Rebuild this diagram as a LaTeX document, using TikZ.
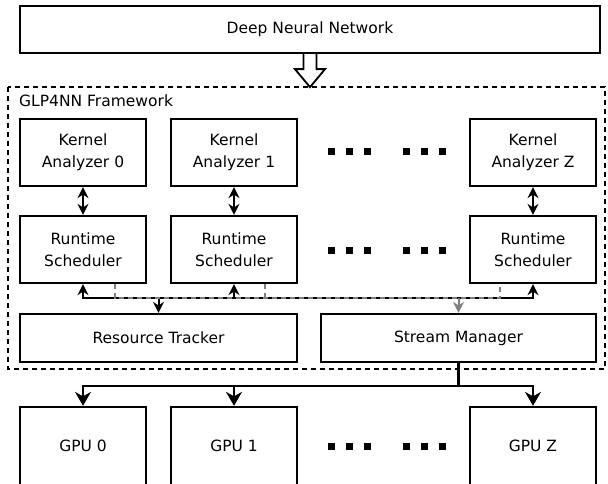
\documentclass[tikz,border=0pt]{standalone}
\usepackage{fontspec}
\setmainfont{DejaVu Sans}
\usetikzlibrary{arrows.meta,calc}

\tikzset{
	box/.style={draw, line width=2.3pt, align=center, inner sep=0pt,
		minimum width=126pt, minimum height=67pt,
		font=\fontsize{15.5}{22}\selectfont},
	link/.style={line width=2pt, -{Stealth[length=11pt,width=11pt]}},
	dlink/.style={line width=2pt, {Stealth[length=11pt,width=11pt]}-{Stealth[length=11pt,width=11pt]}},
	biglink/.style={line width=2.2pt, -{Stealth[length=14pt,width=16pt]}},
	glink/.style={gray, line width=2pt, dash pattern=on 5pt off 4pt},
}

\begin{document}
\begin{tikzpicture}[x=1pt, y=-1pt] % GLP4NN overview
		\useasboundingbox (0,0) rectangle (608,484);
		\clip (0,0) rectangle (608,484);

		\node[box, minimum width=580pt, minimum height=47pt] (dnn) at (310,29.5) {Deep Neural Network};

		% framework border and its title
		\draw[line width=2.3pt, dash pattern=on 5pt off 4pt] (8,87) rectangle (605,369);
		\node[anchor=west, inner sep=0pt, font=\fontsize{15.5}{22}\selectfont] (fw) at (19,101) {GLP4NN Framework};

		% hollow arrow into the framework
		\draw[line width=1.8pt, fill=white, line join=miter] ($(dnn.south)+(-6.5,0)$) -- ++(0,15) -- ++(-8.5,0)
			-- ++(15,18) -- ++(15,-18) -- ++(-8.5,0) -- ++(0,-15);

		\foreach \i/\x in {0/83, 1/234, Z/533} {
			\node[box] (ka\i) at (\x,152.5) {Kernel\\Analyzer \i};
			\node[box] (rs\i) at (\x,249.5) {Runtime\\Scheduler};
			\node[box, minimum height=78pt] (gpu\i) at (\x,446) {GPU \i};
			\draw[dlink] (ka\i) -- (rs\i);
		}

		\node[box, minimum width=277pt, minimum height=48pt] (rt) at (158.5,338) {Resource Tracker};
		\node[box, minimum width=275pt, minimum height=48pt] (sm) at (458.5,338) {Stream Manager};

		% dots between the columns
		\foreach \x in {331, 349, 367, 406, 424, 442}
			\foreach \y in {152, 250, 446}
				\fill (\x-3.5,\y-3.5) rectangle (\x+3.5,\y+3.5);

		% scheduler bus
		\coordinate (bus) at (0,298);
		\draw[dlink] (rs0.south) -- (rs0.south |- bus) -- (rsZ.south |- bus) -- (rsZ.south);
		\draw[link] (rs1.south |- bus) -- (rs1.south);
		\draw[link] (rt.north |- bus) -- (rt.north);

		\draw[glink] ($(rs0.south)+(32,0)$) -- ($(rs0.south |- bus)+(32,0)$)
			-- ($(rsZ.south |- bus)+(-33,0)$) -- ($(rsZ.south)+(-33,0)$);
		\draw[glink] ($(rs1.south)+(31,0)$) -- ($(rs1.south |- bus)+(31,0)$);
		\draw[link, gray] (sm.north |- bus) -- (sm.north);

		% stream manager to the GPUs
		\coordinate (split) at ($(sm.south)+(0,23)$);
		\draw[line width=2.2pt] (sm.south) -- (split);
		\draw[biglink] (split) -| (gpu0.north);
		\draw[biglink] (split) -| (gpuZ.north);
		\draw[biglink] (gpu1.north |- split) -- (gpu1.north);
		\end{tikzpicture}
\end{document}
